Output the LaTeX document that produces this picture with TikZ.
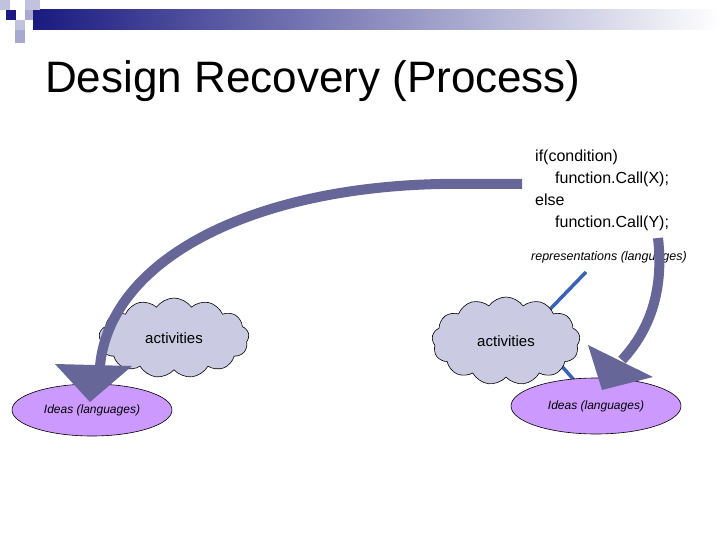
\documentclass[tikz,border=0pt]{standalone}
\usepackage{fontspec}
\setmainfont{Liberation Sans}
\usetikzlibrary{shapes.symbols,shapes.geometric}
\definecolor{navy}{HTML}{1A1A80}
\definecolor{lightsq}{HTML}{A8A8D0}
\definecolor{arr}{HTML}{666699}
\definecolor{cloudc}{HTML}{CACAE2}
\definecolor{lilac}{HTML}{CC99FF}
\definecolor{bline}{HTML}{3A63B8}
\begin{document}
\begin{tikzpicture}[x=1pt,y=-1pt,
  cl/.style={cloud,cloud puffs=13,cloud puff arc=110,aspect=1.9,draw=black,fill=cloudc,line width=0.6pt,font=\fontsize{15}{18}\selectfont},
  idea/.style={ellipse,draw=black,fill=lilac,line width=0.6pt,font=\fontsize{12}{14}\selectfont\itshape},
  shaft/.style={draw=arr,line width=10pt},
  head/.style={fill=arr}]
\useasboundingbox (0,0) rectangle (720,540);
% header
\shade[left color=navy,right color=white] (33,10) rectangle (720,30);
\fill[lightsq!70] (0,0) rectangle (10,10);
\fill[lightsq!70] (25,0) rectangle (40,10);
\fill[lightsq] (25,10) rectangle (33,20);
\fill[navy] (6,10) rectangle (16,20);
\fill[lightsq!70] (15,20) rectangle (25,30);
\fill[lightsq] (15,30) rectangle (25,43);
\node[anchor=base west,font=\fontsize{44}{50}\selectfont,inner sep=0] (title) at (45,93) {Design Recovery (Process)};
% code
\node[anchor=north west,align=left,font=\fontsize{16}{22}\selectfont,inner sep=0] (code) at (535,150)
 {if(condition)\\\hspace{20pt}function.Call(X);\\else\\\hspace{20pt}function.Call(Y);};
\node[font=\fontsize{12.5}{14}\selectfont\itshape,inner sep=0] (rep) at (609,257) {representations (languages)};
% blue line
\coordinate (b1) at (586,272);
\coordinate (b2) at (530,330);
\coordinate (b3) at (574,380);
\draw[bline,line width=3.5pt] (b1) -- (b2) -- (b3);
% clouds and ideas
\node[cl,minimum width=150,minimum height=80] (c1) at (174,338) {activities};
\node[cl,minimum width=148,minimum height=88] (c2) at (506,341) {activities};
\node[idea,minimum width=160,minimum height=52] (i1) at (92,410) {Ideas (languages)};
\node[idea,minimum width=170,minimum height=56] (i2) at (596,406) {Ideas (languages)};
% arrows
\coordinate (s1) at (522,184);
\coordinate (e1) at (100,366);
\draw[shaft] (s1) -- (440,184) .. controls (250,188) and (110,260) .. (e1);
\fill[head] (55,364) -- (132,366) -- (90,402) -- cycle;
\coordinate (s2) at (658,238);
\coordinate (e2) at (622,360);
\draw[shaft] (s2) .. controls (664,290) and (650,330) .. (e2);
\fill[head] (588,345) -- (653,377) -- (602,390) -- cycle;
\end{tikzpicture}
\end{document}
